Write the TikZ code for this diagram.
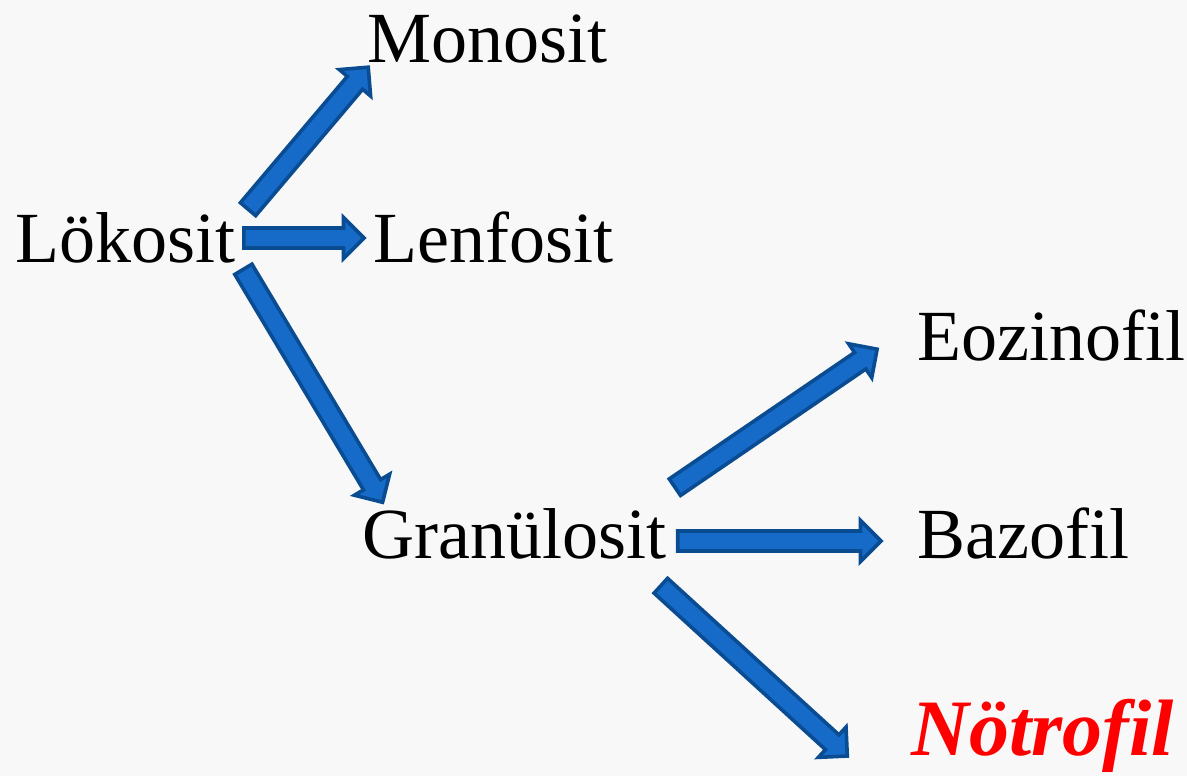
\documentclass[tikz,border=0pt]{standalone}
\usepackage{fontspec}
\setmainfont{Liberation Serif}
\usepackage{tikz}
\usetikzlibrary{shapes.arrows,calc}
\definecolor{paper}{HTML}{F8F8F8}
\definecolor{ink}{HTML}{000000}
\definecolor{arrfill}{HTML}{166AC8}
\definecolor{arrline}{HTML}{0A4C92}
\definecolor{hotred}{HTML}{FF0000}
\tikzset{
  every node/.style={text=ink},
  % cell names, set on their baseline
  cell/.style={inner sep=0pt, anchor=base west, font=\fontsize{36}{40}\selectfont},
  % fat blue arrows of the slide
  blockarr/.style={single arrow, draw=arrline, fill=arrfill, line width=1.8pt,
                   inner xsep=0pt, inner ysep=4.1pt, text height=0pt, text depth=0pt,
                   single arrow head extend=5.25pt, single arrow tip angle=90},
}
% block arrow from #1 to #2
\newcommand{\blk}[2]{%
  \path let \p1=(#1), \p2=(#2), \n1={atan2(\y2-\y1,\x2-\x1)}, \n2={veclen(\x2-\x1,\y2-\y1)} in
    node[blockarr, minimum height=\n2, rotate=\n1] at ($(#1)!0.5!(#2)$) {};}

\begin{document}
\begin{tikzpicture}[x=0.5pt,y=-0.5pt]
  \fill[paper] (0,0) rectangle (1187,776);
  \useasboundingbox (0,0) rectangle (1187,776);

  \node[cell] (lok)  at (15,262)  {Lökosit};
  \node[cell] (mono) at (367,62)  {Monosit};
  \node[cell] (lenf) at (373,262) {Lenfosit};
  \node[cell] (gran) at (362,558) {Granülosit};
  \node[cell] (eoz)  at (917,360) {Eozinofil};
  \node[cell] (baz)  at (917,558) {Bazofil};
  \node[cell, font=\fontsize{40}{44}\selectfont\bfseries\itshape, text=hotred] (notr) at (911,755) {Nötrofil};

  % first split
  \blk{[shift={(9,-49)}]lok.base east}{[shift={(-2,9)}]mono.base west}
  \blk{[shift={(3,-24)}]lok.base east}{[shift={(-14,-24)}]lenf.base west}
  \blk{[shift={(5,3)}]lok.base east}{[shift={(18,-60)}]gran.base west}

  % granulocytes
  \blk{[shift={(4,-68)}]gran.base east}{[shift={(-44,-8)}]eoz.base west}
  \blk{[shift={(6,-17)}]gran.base east}{[shift={(-41,-17)}]baz.base west}
  \blk{[shift={(-10,24)}]gran.base east}{[shift={(-67,-2)}]notr.base west}
\end{tikzpicture}
\end{document}
